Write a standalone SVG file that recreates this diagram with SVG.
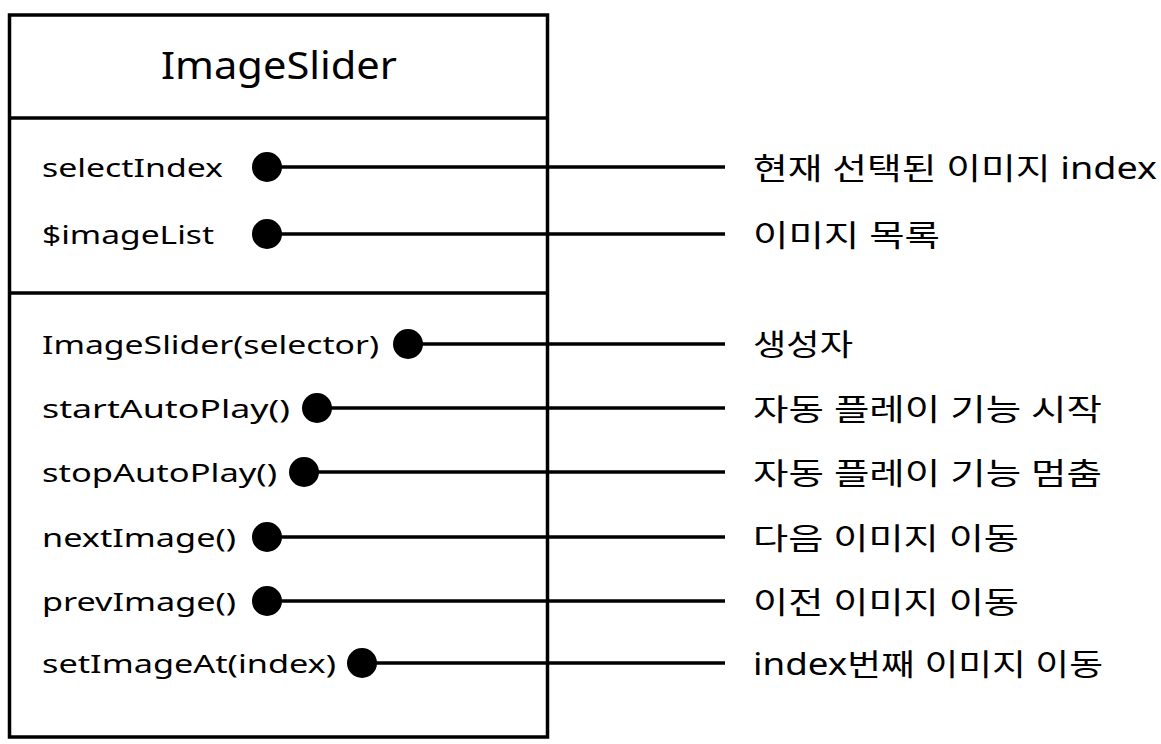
<svg xmlns="http://www.w3.org/2000/svg" width="1161" height="744" viewBox="0 0 1161 744">
<style>
.box{fill:#fff;stroke:#000;stroke-width:3.5}
.div{stroke:#000;stroke-width:3.5}
.t{font-family:"Noto Sans","Noto Sans CJK KR",sans-serif;font-size:26px;fill:#000}
.title{font-family:"Noto Sans","Noto Sans CJK KR",sans-serif;font-size:38px;fill:#000}
.k{font-family:"Noto Sans","Noto Sans CJK KR",sans-serif;font-size:30px;fill:#000}
.ln{stroke:#000;stroke-width:3.5;fill:none}
.dot{fill:#000}
</style>
<rect width="1161" height="744" fill="#fff"/>
<g id="class-ImageSlider">
<rect class="box" x="9.5" y="15" width="538" height="722"/>
<line class="div" x1="9.5" y1="118" x2="547.5" y2="118"/>
<line class="div" x1="9.5" y1="293" x2="547.5" y2="293"/>
<text class="title" x="161" y="79" textLength="236" lengthAdjust="spacingAndGlyphs">ImageSlider</text>
<text class="t" x="42" y="177" textLength="181" lengthAdjust="spacingAndGlyphs">selectIndex</text>
<text class="t" x="42" y="244" textLength="172" lengthAdjust="spacingAndGlyphs">$imageList</text>
<text class="t" x="42" y="354" textLength="337" lengthAdjust="spacingAndGlyphs">ImageSlider(selector)</text>
<text class="t" x="42" y="418" textLength="248" lengthAdjust="spacingAndGlyphs">startAutoPlay()</text>
<text class="t" x="42" y="482" textLength="235" lengthAdjust="spacingAndGlyphs">stopAutoPlay()</text>
<text class="t" x="42" y="547" textLength="194" lengthAdjust="spacingAndGlyphs">nextImage()</text>
<text class="t" x="42" y="611" textLength="194" lengthAdjust="spacingAndGlyphs">prevImage()</text>
<text class="t" x="42" y="673" textLength="294" lengthAdjust="spacingAndGlyphs">setImageAt(index)</text>
</g>
<g id="connectors">
<line class="ln" x1="267" y1="167" x2="725" y2="167"/>
<line class="ln" x1="267" y1="234" x2="725" y2="234"/>
<line class="ln" x1="408" y1="344" x2="725" y2="344"/>
<line class="ln" x1="317" y1="408" x2="725" y2="408"/>
<line class="ln" x1="304" y1="472" x2="725" y2="472"/>
<line class="ln" x1="267" y1="537" x2="725" y2="537"/>
<line class="ln" x1="267" y1="601" x2="725" y2="601"/>
<line class="ln" x1="362" y1="663" x2="725" y2="663"/>
<circle class="dot" cx="267" cy="167" r="15"/>
<circle class="dot" cx="267" cy="234" r="15"/>
<circle class="dot" cx="408" cy="344" r="15"/>
<circle class="dot" cx="317" cy="408" r="15"/>
<circle class="dot" cx="304" cy="472" r="15"/>
<circle class="dot" cx="267" cy="537" r="15"/>
<circle class="dot" cx="267" cy="601" r="15"/>
<circle class="dot" cx="362" cy="663" r="15"/>
</g>
<g id="labels">
<text class="k" x="753" y="179" textLength="404" lengthAdjust="spacingAndGlyphs">현재 선택된 이미지 index</text>
<text class="k" x="753" y="246" textLength="187" lengthAdjust="spacingAndGlyphs">이미지 목록</text>
<text class="k" x="753" y="355" textLength="100" lengthAdjust="spacingAndGlyphs">생성자</text>
<text class="k" x="753" y="420" textLength="349" lengthAdjust="spacingAndGlyphs">자동 플레이 기능 시작</text>
<text class="k" x="753" y="484" textLength="349" lengthAdjust="spacingAndGlyphs">자동 플레이 기능 멈춤</text>
<text class="k" x="753" y="549" textLength="266" lengthAdjust="spacingAndGlyphs">다음 이미지 이동</text>
<text class="k" x="753" y="613" textLength="266" lengthAdjust="spacingAndGlyphs">이전 이미지 이동</text>
<text class="k" x="753" y="675" textLength="350" lengthAdjust="spacingAndGlyphs">index번째 이미지 이동</text>
</g>
</svg>
